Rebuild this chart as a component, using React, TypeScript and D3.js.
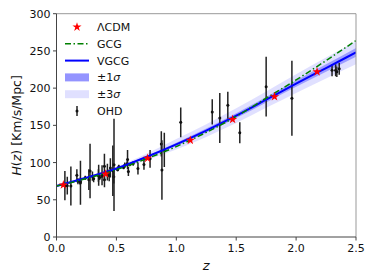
import React from 'react'
import * as d3 from 'd3'

// observed H(z) data (OHD)
const ohdZ = [0.07, 0.09, 0.12, 0.17, 0.179, 0.199, 0.2, 0.24, 0.27, 0.28, 0.3, 0.31, 0.35, 0.352, 0.36, 0.38, 0.3802, 0.4, 0.4004, 0.4247, 0.43, 0.44, 0.4497, 0.47, 0.4783, 0.48, 0.51, 0.52, 0.56, 0.57, 0.59, 0.593, 0.6, 0.61, 0.64, 0.68, 0.73, 0.781, 0.875, 0.88, 0.9, 1.037, 1.3, 1.363, 1.43, 1.53, 1.75, 1.965, 2.3, 2.33, 2.34, 2.36]
const ohdH = [69, 69, 68.6, 83, 75, 75, 72.9, 79.7, 77, 88.8, 81.7, 78.2, 82.7, 83, 79.9, 81.5, 83, 95, 77, 87.1, 86.5, 82.6, 92.8, 89, 80.9, 97, 90.4, 94.4, 93.3, 96.8, 98.5, 104, 87.9, 97.3, 98.8, 92, 97.3, 105, 125, 90, 117, 154, 168, 160, 177, 140, 202, 186.5, 224, 224, 222, 226]
const ohdErr = [19.6, 12, 26.2, 8, 4, 5, 29.6, 2.7, 14, 36.6, 6.2, 4.7, 8.4, 14, 3.4, 1.9, 13.5, 17, 10.2, 11.2, 3.7, 7.8, 12.9, 34, 9, 62, 1.9, 2.6, 2.3, 3.4, 3.2, 13, 6.1, 2.1, 3, 8, 7, 12, 17, 40, 23, 20, 17, 33.6, 18, 14, 40, 50.4, 8, 8, 7, 8]

// LCDM reference stars
const lcdmZ = [0.057, 0.41, 0.76, 1.117, 1.47, 1.82, 2.175]
const lcdmH = [70, 84.7, 105.8, 130, 158, 188.6, 222]

// model curves sampled along z
const curveZ = [0, 0.25, 0.5, 0.75, 1.0, 1.25, 1.5, 1.75, 2.0, 2.25, 2.5]
const gcgH = [68.5, 78.5, 90.5, 105, 121.5, 140.5, 162, 186.5, 211, 237, 264]
const vgcgH = [68.5, 79.5, 92, 107.5, 124.5, 143, 163, 184.5, 206, 227, 248]
const sig1Lo = [67.5, 78.8, 91.3, 106.2, 122.3, 140.3, 159.8, 180.8, 201.8, 222, 242]
const sig1Hi = [69.5, 80.2, 92.7, 108.8, 126.7, 145.7, 166.2, 188.2, 210.2, 232, 254]
const sig3Lo = [66.5, 77.5, 89.5, 103, 117.5, 134.5, 153, 173.5, 193.5, 213, 232]
const sig3Hi = [70.5, 81.5, 94.5, 112, 131.5, 151.5, 173, 195.5, 218.5, 241, 263]

const xTicks = [0, 0.5, 1.0, 1.5, 2.0, 2.5]
const yTicks = [0, 50, 100, 150, 200, 250, 300]

const W = 374
const H = 280
const left = 56.5
const right = 356
const top = 13.7
const bottom = 237

const font = 'DejaVu Sans, sans-serif'

export default function App() {
    const x = d3.scaleLinear().domain([0, 2.5]).range([left, right])
    const y = d3.scaleLinear().domain([0, 300]).range([bottom, top])

    const line = (vals: number[]) =>
        d3.line<number>()
            .x((_, i) => x(curveZ[i]))
            .y(d => y(d))
            .curve(d3.curveMonotoneX)(vals) as string

    const band = (lo: number[], hi: number[]) =>
        d3.area<number>()
            .x((_, i) => x(curveZ[i]))
            .y0((_, i) => y(lo[i]))
            .y1((_, i) => y(hi[i]))
            .curve(d3.curveMonotoneX)(curveZ) as string

    const star = d3.symbol().type(d3.symbolStar).size(26)() as string

    const legendRows = ['\u039BCDM', 'GCG', 'VGCG', '\u00B11', '\u00B13', 'OHD']
    const legY = (i: number) => 27 + i * 16.8
    const hx0 = 65
    const hx1 = 89

    return (
        <svg width={W} height={H} style={{ position: 'fixed', left: 0, top: 0, display: 'block', background: '#fff' }}>
            <defs>
                <clipPath id="plot">
                    <rect x={left} y={top} width={right - left} height={bottom - top} />
                </clipPath>
            </defs>

            <g clipPath="url(#plot)">
                <path d={band(sig3Lo, sig3Hi)} fill="#0000ff" fillOpacity={0.12} />
                <path d={band(sig1Lo, sig1Hi)} fill="#0000ff" fillOpacity={0.3} />

                {ohdZ.map((z, i) => (
                    <g key={i}>
                        <line x1={x(z)} x2={x(z)} y1={y(ohdH[i] - ohdErr[i])} y2={y(ohdH[i] + ohdErr[i])}
                            stroke="#222" strokeWidth={1.5} />
                        <circle cx={x(z)} cy={y(ohdH[i])} r={1.5} fill="#111" />
                    </g>
                ))}

                <path d={line(vgcgH)} fill="none" stroke="#0000ff" strokeWidth={2} />
                <path d={line(gcgH)} fill="none" stroke="#008000" strokeWidth={1.5} strokeDasharray="6,2.5,1.5,2.5" />

                {lcdmZ.map((z, i) => (
                    <path key={i} d={star} transform={`translate(${x(z)},${y(lcdmH[i])})`} fill="#ff0000" />
                ))}
            </g>

            {/* spines */}
            <line x1={left} x2={right} y1={top} y2={top} stroke="#999" strokeWidth={1} />
            <line x1={right} x2={right} y1={top} y2={bottom} stroke="#999" strokeWidth={1} />
            <line x1={left} x2={left} y1={top} y2={bottom} stroke="#444" strokeWidth={1} />
            <line x1={left} x2={right} y1={bottom} y2={bottom} stroke="#444" strokeWidth={1} />

            {xTicks.map(t => (
                <g key={t}>
                    <line x1={x(t)} x2={x(t)} y1={bottom} y2={bottom + 3.5} stroke="#444" />
                    <text x={x(t)} y={bottom + 15} textAnchor="middle" fontFamily={font} fontSize={11} fill="#111">{t.toFixed(1)}</text>
                </g>
            ))}
            {yTicks.map(t => (
                <g key={t}>
                    <line x1={left - 3.5} x2={left} y1={y(t)} y2={y(t)} stroke="#444" />
                    <text x={left - 6} y={y(t) + 4} textAnchor="end" fontFamily={font} fontSize={11} fill="#111">{t}</text>
                </g>
            ))}

            <text x={(left + right) / 2} y={270} textAnchor="middle" fontFamily={font} fontSize={13} fontStyle="italic" fill="#111">z</text>
            <text transform={`translate(21,${(top + bottom) / 2}) rotate(-90)`} textAnchor="middle" fontFamily={font} fontSize={12.5} fill="#111">
                <tspan fontStyle="italic">H</tspan>(<tspan fontStyle="italic">z</tspan>) [Km/s/Mpc]
            </text>

            {/* legend */}
            <g fontFamily={font} fontSize={11} fill="#111">
                <path d={star} transform={`translate(${(hx0 + hx1) / 2},${legY(0)})`} fill="#ff0000" />
                <line x1={hx0} x2={hx1} y1={legY(1)} y2={legY(1)} stroke="#008000" strokeWidth={1.5} strokeDasharray="6,2.5,1.5,2.5" />
                <line x1={hx0} x2={hx1} y1={legY(2)} y2={legY(2)} stroke="#0000ff" strokeWidth={2} />
                <rect x={hx0} y={legY(3) - 4} width={hx1 - hx0} height={8} fill="#0000ff" fillOpacity={0.42} />
                <rect x={hx0} y={legY(4) - 4} width={hx1 - hx0} height={8} fill="#0000ff" fillOpacity={0.12} />
                <line x1={(hx0 + hx1) / 2} x2={(hx0 + hx1) / 2} y1={legY(5) - 5} y2={legY(5) + 5} stroke="#222" strokeWidth={1.5} />
                <circle cx={(hx0 + hx1) / 2} cy={legY(5)} r={1.5} fill="#111" />
                {legendRows.map((label, i) => (
                    <text key={i} x={97} y={legY(i) + 4}>
                        {label}{i === 3 || i === 4 ? <tspan fontStyle="italic">{'\u03C3'}</tspan> : null}
                    </text>
                ))}
            </g>
        </svg>
    )
}
